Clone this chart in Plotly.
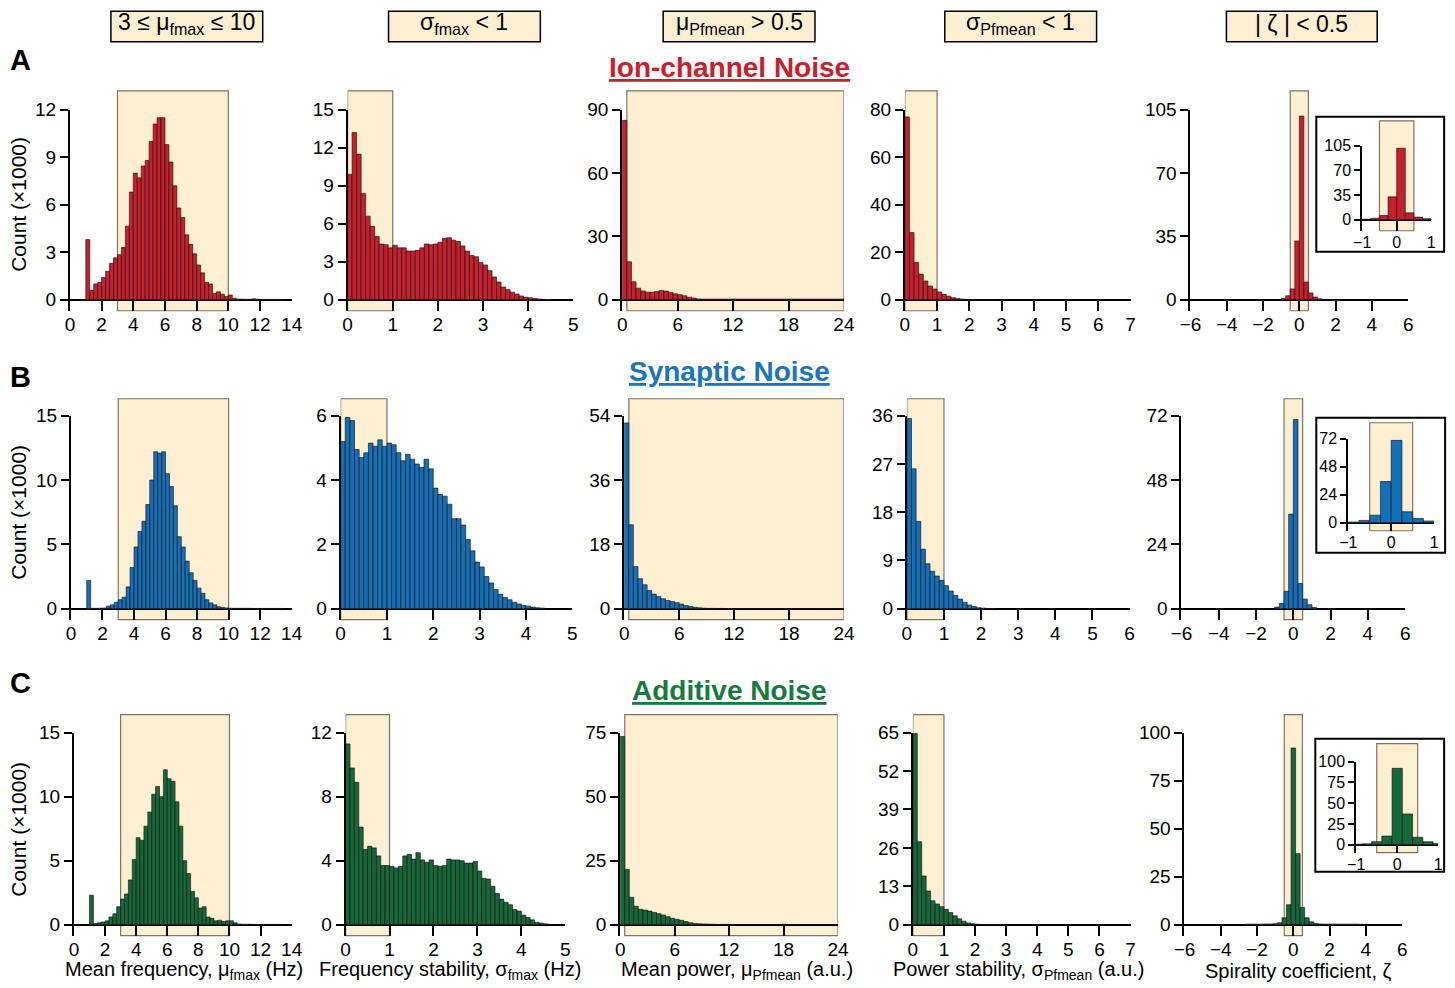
import plotly.graph_objects as go

W, H = 1455, 988
FONT = "Liberation Sans, Arial, Helvetica, sans-serif"

# ---------------- data: histogram counts (x1000) ----------------
# bins: (left edge of first bin, bin width)
FREQ_MEAN_BINS = (1.0, 0.25)
FREQ_STD_BINS = (0.0, 0.1)
POWER_MEAN_BINS = (0.0, 0.5)
POWER_STD_BINS = {"ion": (0.0, 1 / 7), "syn": (0.0, 0.125), "add": (0.0, 1 / 7)}
SPIRAL_BINS = {"ion": (-1.0, 0.25), "syn": (-1.0, 0.25), "add": (-2.625, 0.25)}

ion_freq_mean = [3.8, 0.6, 1.0, 1.1, 1.4, 1.8, 2.3, 2.65, 2.85, 3.3, 4.65, 6.8, 8.0, 7.7, 8.45, 8.8,
                 10.0, 11.1, 11.5, 11.5, 9.8, 8.7, 7.2, 5.8, 5.2, 4.1, 3.5, 2.9, 2.2, 1.7, 1.1, 1.0,
                 0.4, 0.5, 0.35, 0.2, 0.3, 0.1, 0.05, 0.04, 0.03, 0.03, 0.06, 0.03, 0.02, 0.02, 0.02,
                 0.02, 0.02, 0.02]
ion_freq_std = [9.9, 13.2, 11.5, 8.4, 6.6, 5.8, 5.0, 4.4, 4.35, 4.1, 4.3, 4.1, 4.1, 3.85, 3.85, 3.9,
                4.1, 4.4, 4.35, 4.4, 4.55, 4.85, 4.9, 4.7, 4.6, 4.25, 3.85, 3.5, 3.4, 2.95, 2.75, 2.3,
                1.8, 1.4, 1.0, 0.8, 0.6, 0.45, 0.3, 0.2, 0.15, 0.1, 0.06, 0.03, 0.02]
ion_power_mean = [85, 18, 8.5, 5.5, 4.2, 3.6, 3.6, 3.9, 4.4, 4.1, 3.5, 2.8, 2.4, 1.9, 1.2, 0.8, 0.4,
                  0.3, 0.3, 0.3, 0.3, 0.3, 0.3, 0.3, 0.3, 0.3, 0.3, 0.3, 0.3, 0.3, 0.3, 0.3, 0.3,
                  0.3, 0.3, 0.3, 0.3, 0.3, 0.3, 0.3, 0.3, 0.3, 0.3, 0.3, 0.3, 0.3, 0.3, 0.3]
ion_power_std = [77, 28.3, 15.7, 10.8, 7.9, 5.8, 4.5, 3.3, 2.3, 1.5, 0.9, 0.5, 0.25, 0.12, 0.06,
                 0.04, 0.03, 0.02, 0.02, 0.02]
ion_spiral = [0.8, 2.2, 6.0, 32.5, 101.5, 9.8, 3.8, 1.5, 0.6]

syn_freq_mean = [2.2, 0.03, 0.03, 0.04, 0.05, 0.2, 0.3, 0.5, 0.7, 0.9, 1.7, 3.2, 4.8, 6.0, 6.8, 8.1,
                 10.0, 12.2, 12.1, 12.2, 10.5, 9.5, 8.0, 5.6, 4.8, 3.7, 2.8, 2.2, 1.6, 1.2, 0.7, 0.45,
                 0.3, 0.15, 0.1, 0.06, 0.04, 0.03, 0.03, 0.03, 0.03, 0.03, 0.02, 0.02, 0.02, 0.02,
                 0.02, 0.02, 0.02, 0.02]
syn_freq_std = [5.2, 5.95, 5.85, 4.95, 4.7, 4.85, 5.15, 5.05, 5.25, 5.05, 5.15, 5.1, 4.85, 4.6, 4.8,
                4.65, 4.5, 4.4, 4.65, 4.35, 3.75, 3.55, 3.5, 3.25, 2.8, 2.8, 2.6, 2.15, 1.8, 1.45,
                1.3, 1.0, 0.8, 0.6, 0.45, 0.35, 0.28, 0.2, 0.15, 0.1, 0.08, 0.05, 0.03, 0.02]
syn_power_mean = [52, 23.5, 11.8, 8.4, 6.7, 5.1, 4.1, 3.4, 2.8, 2.3, 2.0, 1.7, 1.3, 0.9, 0.6, 0.4,
                  0.25, 0.15, 0.1, 0.1, 0.08, 0.08, 0.06, 0.06, 0.05, 0.05, 0.05, 0.05, 0.05, 0.05,
                  0.05, 0.05, 0.05, 0.05, 0.05, 0.05, 0.05, 0.05, 0.05, 0.05, 0.05, 0.05, 0.05,
                  0.05, 0.05, 0.05, 0.05, 0.05]
syn_power_std = [35.5, 26.1, 16.3, 11.1, 8.4, 7.0, 6.1, 5.3, 4.3, 3.3, 2.5, 1.8, 1.2, 0.7, 0.4,
                 0.2, 0.1, 0.05, 0.03]
syn_spiral = [0.6, 2.0, 6.5, 35.3, 70.6, 9.4, 3.6, 1.5, 0.5]

add_freq_mean = [2.3, 0.1, 0.15, 0.2, 0.3, 0.6, 0.85, 1.4, 2.0, 2.4, 3.5, 5.1, 6.8, 6.6, 7.7, 8.8,
                 10.2, 10.8, 10.0, 12.1, 11.4, 11.2, 9.6, 7.7, 5.0, 4.0, 2.6, 2.1, 1.3, 1.4, 0.6,
                 0.5, 0.3, 0.35, 0.25, 0.3, 0.3, 0.15, 0.05, 0.03, 0.03, 0.03, 0.02, 0.02, 0.02,
                 0.02, 0.02, 0.02, 0.02, 0.02]
add_freq_std = [11.3, 9.8, 8.9, 6.1, 4.7, 4.9, 4.8, 4.3, 3.7, 3.7, 3.65, 3.55, 3.65, 4.3, 4.4, 4.1,
                4.5, 4.05, 3.9, 4.05, 3.7, 3.65, 3.7, 4.1, 4.05, 4.05, 4.0, 3.85, 3.85, 3.95, 3.35,
                2.9, 2.85, 2.4, 1.95, 1.6, 1.4, 1.25, 0.95, 0.85, 0.6, 0.45, 0.3, 0.15, 0.1, 0.05,
                0.02]
add_power_mean = [73.5, 21.6, 10.7, 7.2, 6.0, 5.7, 5.3, 4.8, 4.3, 3.8, 3.1, 2.5, 2.1, 1.7, 1.2, 0.8,
                  0.5, 0.35, 0.25, 0.2, 0.15, 0.1, 0.1, 0.1, 0.05, 0.05, 0.05, 0.05, 0.05, 0.05,
                  0.05, 0.05, 0.05, 0.05, 0.05, 0.05, 0.05, 0.05, 0.05, 0.05, 0.05, 0.05, 0.05,
                  0.05, 0.05, 0.05, 0.05, 0.05]
add_power_std = [64.7, 28.1, 16.5, 11.4, 8.1, 7.0, 6.1, 5.2, 4.1, 3.0, 2.0, 1.2, 0.6, 0.3, 0.15,
                 0.08, 0.05, 0.03, 0.02, 0.02]
add_spiral = [0.3, 0.3, 0.3, 0.3, 0.35, 0.4, 0.5, 1.0, 3.6, 10.4, 92, 37, 9.0, 3.6, 1.5, 0.6, 0.4,
              0.3, 0.3, 0.3, 0.3, 0.3, 0.3, 0.3, 0.3]

# criteria (shaded ranges)
FREQ_MEAN_RANGE = (3, 10)
FREQ_STD_RANGE = (0, 1)
POWER_MEAN_RANGE = (0.5, 24)
POWER_STD_RANGE = (0, 1)
SPIRAL_RANGE = (-0.5, 0.5)

# axis ticks
freq_mean_xticks = [0, 2, 4, 6, 8, 10, 12, 14]
freq_std_xticks = [0, 1, 2, 3, 4, 5]
power_mean_xticks = [0, 6, 12, 18, 24]
power_std_xticks = {"ion": [0, 1, 2, 3, 4, 5, 6, 7], "syn": [0, 1, 2, 3, 4, 5, 6],
                    "add": [0, 1, 2, 3, 4, 5, 6, 7]}
spiral_xticks = [-6, -4, -2, 0, 2, 4, 6]
inset_xticks = [-1, 0, 1]
yticks = {
    "ion": [[0, 3, 6, 9, 12], [0, 3, 6, 9, 12, 15], [0, 30, 60, 90], [0, 20, 40, 60, 80],
            [0, 35, 70, 105]],
    "syn": [[0, 5, 10, 15], [0, 2, 4, 6], [0, 18, 36, 54], [0, 9, 18, 27, 36], [0, 24, 48, 72]],
    "add": [[0, 5, 10, 15], [0, 4, 8, 12], [0, 25, 50, 75], [0, 13, 26, 39, 52, 65],
            [0, 25, 50, 75, 100]],
}

# ---------------- styles / layout geometry ----------------
COLORS = {"ion": "#C5202E", "syn": "#1170B8", "add": "#15683A"}
TITLE_COLORS = {"ion": "#C8202F", "syn": "#1A75C0", "add": "#167A3E"}
EDGE = "rgba(25,15,15,0.9)"
SHADE = "#FFEFD2"
SHADE_EDGE = "#7d7464"

# geometry is given in screen pixels of the photographed page; the page is
# shown with a small offset and scale, so convert to figure pixels
OX, SX = 9.95, 0.9862
OY, SY = 10.2, 0.989


def fx(px):
    return ((px - OX) / SX) / W


def fy(py):
    return min(1.0, max(0.0, 1 - ((py - OY) / SY) / H))


ROW_GEOM = {
    "ion": dict(top=110, zero=300, bot=311, rect_top=91),
    "syn": dict(top=416, zero=609, bot=620, rect_top=399),
    "add": dict(top=733, zero=925, bot=936, rect_top=715),
}
COL_PX = {
    "ion": [(69, 291), (347, 573), (622, 844), (905, 1131), (1191, 1409)],
    "syn": [(70, 291), (340, 572), (624, 844), (907, 1130), (1182, 1406)],
    "add": [(73, 291), (345, 565), (620, 838), (913, 1131), (1185, 1403)],
}
INSET_GEOM = {
    "ion": dict(x=(1363, 1432), top=146, zero=220, bot=231, rect_top=121, box=(1317, 117, 1445, 252)),
    "syn": dict(x=(1349, 1435), top=439, zero=523, bot=531, rect_top=423, box=(1317, 418, 1446, 553)),
    "add": dict(x=(1357, 1439), top=762, zero=845, bot=853, rect_top=744, box=(1316, 739, 1445, 872)),
}

fig = go.Figure()
layout = {}
shapes = []
annotations = []


def fmt(v):
    s = f"{v:g}"
    return s.replace("-", "\u2212")


def centers(start, width, n):
    return [start + (i + 0.5) * width for i in range(n)]


counter = [0]


def add_panel(xpx, top, zero, bot, rect_top, xrange, xticks, yt, start, width, counts, color,
              rect_x, fsize, ylen):
    counter[0] += 1
    n = counter[0]
    sfx = "" if n == 1 else str(n)
    ytop = yt[-1]
    ylow = ytop * (bot - zero) / (zero - top)
    fig.add_trace(go.Bar(
        x=centers(start, width, len(counts)), y=counts, width=width,
        marker=dict(color=color, line=dict(color=EDGE, width=0.7)),
        xaxis="x" + sfx, yaxis="y" + sfx, showlegend=False, hoverinfo="skip"))
    layout["xaxis" + sfx] = dict(
        domain=[fx(xpx[0]), fx(xpx[1])], range=xrange, anchor="y" + sfx,
        showline=False, showgrid=False, zeroline=False,
        ticks="inside", ticklen=(bot - zero) / SY, tickwidth=2, tickcolor="black",
        tickvals=xticks, ticktext=[fmt(v) for v in xticks],
        tickfont=dict(family=FONT, size=fsize, color="black"), fixedrange=True)
    layout["yaxis" + sfx] = dict(
        domain=[fy(bot), fy(top)], range=[-ylow, ytop], anchor="x" + sfx,
        showline=True, linecolor="black", linewidth=2, showgrid=False,
        ticks="outside", ticklen=ylen, tickwidth=2, tickcolor="black",
        zeroline=True, zerolinecolor="black", zerolinewidth=2,
        tickvals=yt, ticktext=[fmt(v) for v in yt],
        tickfont=dict(family=FONT, size=fsize, color="black"), fixedrange=True)
    shapes.append(dict(
        type="rect", xref="x" + sfx, yref="y" + sfx + " domain",
        x0=rect_x[0], x1=rect_x[1], y0=0, y1=1 + (top - rect_top) / (bot - top),
        fillcolor=SHADE, line=dict(color=SHADE_EDGE, width=1.2), layer="below"))


series = {
    "ion": [ion_freq_mean, ion_freq_std, ion_power_mean, ion_power_std, ion_spiral],
    "syn": [syn_freq_mean, syn_freq_std, syn_power_mean, syn_power_std, syn_spiral],
    "add": [add_freq_mean, add_freq_std, add_power_mean, add_power_std, add_spiral],
}

for key in ["ion", "syn", "add"]:
    g = ROW_GEOM[key]
    cols = COL_PX[key]
    d = series[key]
    specs = [
        ([0, 14], freq_mean_xticks, FREQ_MEAN_BINS, FREQ_MEAN_RANGE),
        ([0, 5], freq_std_xticks, FREQ_STD_BINS, FREQ_STD_RANGE),
        ([0, 24], power_mean_xticks, POWER_MEAN_BINS, POWER_MEAN_RANGE),
        ([0, power_std_xticks[key][-1]], power_std_xticks[key], POWER_STD_BINS[key], POWER_STD_RANGE),
        ([-6, 6], spiral_xticks, SPIRAL_BINS[key], SPIRAL_RANGE),
    ]
    for c in range(5):
        xr, xt, bins, rx = specs[c]
        add_panel(cols[c], g["top"], g["zero"], g["bot"], g["rect_top"], xr, xt, yticks[key][c],
                  bins[0], bins[1], d[c], COLORS[key], rx, 19, 8)
    # inset
    ig = INSET_GEOM[key]
    bx = ig["box"]
    shapes.append(dict(type="rect", xref="paper", yref="paper",
                       x0=fx(bx[0]), x1=fx(bx[2]), y0=fy(bx[3]), y1=fy(bx[1]),
                       fillcolor="white", line=dict(color="black", width=2), layer="below"))
    add_panel(ig["x"], ig["top"], ig["zero"], ig["bot"], ig["rect_top"], [-1, 1], inset_xticks,
              yticks[key][4], SPIRAL_BINS[key][0], SPIRAL_BINS[key][1], d[4], COLORS[key],
              SPIRAL_RANGE, 16, 6)


def ann(text, xpx, ypx, size, color="black", **kw):
    annotations.append(dict(text=text, x=fx(xpx), y=fy(ypx), xref="paper", yref="paper",
                            showarrow=False, xanchor=kw.pop("xanchor", "center"),
                            yanchor=kw.pop("yanchor", "middle"),
                            font=dict(family=FONT, size=size, color=color, **kw.pop("font", {})),
                            **kw))


# header boxes
HEADERS = ["3 \u2264 \u03bc<sub>fmax</sub> \u2264 10", "\u03c3<sub>fmax</sub> &lt; 1",
           "\u03bc<sub>Pfmean</sub> &gt; 0.5", "\u03c3<sub>Pfmean</sub> &lt; 1",
           "| \u03b6 | &lt; 0.5"]
HEADER_BOX_X = [(110, 262), (388, 540), (663, 815), (945, 1097), (1227, 1378)]
for text, (x0, x1) in zip(HEADERS, HEADER_BOX_X):
    shapes.append(dict(type="rect", xref="paper", yref="paper", x0=fx(x0), x1=fx(x1),
                       y0=fy(42), y1=fy(8) - 1.2 / H, fillcolor=SHADE,
                       line=dict(color="black", width=1.5), layer="below"))
    ann(text, (x0 + x1) / 2, 24, 23)

# row titles
ROW_TITLES = {"ion": ("Ion-channel Noise", 68), "syn": ("Synaptic Noise", 372),
              "add": ("Additive Noise", 691)}
for key, (t, y) in ROW_TITLES.items():
    ann("<b>" + t + "</b>", 729, y, 28, TITLE_COLORS[key], font=dict(lineposition="under"))

for letter, y in [("A", 60), ("B", 377), ("C", 683)]:
    ann("<b>" + letter + "</b>", 19, y, 29)

for y in [205, 513, 830]:
    ann("Count (\u00d71000)", 18, y, 21, textangle=-90)

XTITLES = ["Mean frequency, \u03bc<sub>fmax</sub> (Hz)",
           "Frequency stability, \u03c3<sub>fmax</sub> (Hz)",
           "Mean power, \u03bc<sub>Pfmean</sub> (a.u.)",
           "Power stability, \u03c3<sub>Pfmean</sub> (a.u.)",
           "Spirality coefficient, \u03b6"]
for t, xc in zip(XTITLES, [183, 450, 737, 1019, 1299]):
    ann(t, xc, 971, 20)

fig.update_layout(
    width=W, height=H, margin=dict(l=0, r=0, t=0, b=0),
    paper_bgcolor="white", plot_bgcolor="rgba(0,0,0,0)",
    shapes=shapes, annotations=annotations, showlegend=False,
    font=dict(family=FONT, color="black"), **layout)

fig.write_html("out.html")
